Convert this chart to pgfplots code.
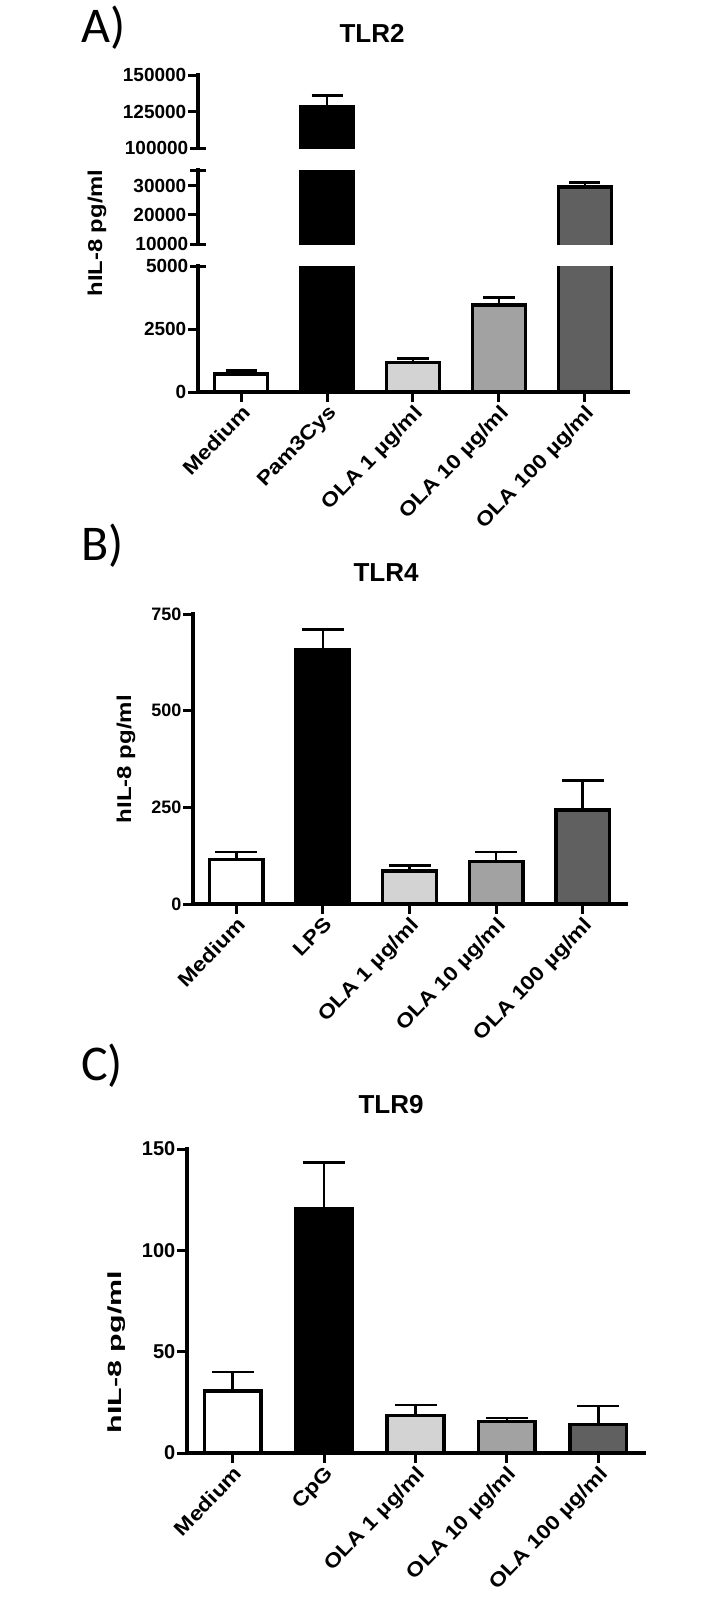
\documentclass[border=0pt]{standalone}
\usepackage{pgfplots}
\pgfplotsset{compat=1.18}
\usepackage{fontspec}
\usepackage{graphicx}
\setmainfont{Liberation Sans}
\newfontfamily\carlito{Carlito}

\definecolor{cL}{HTML}{D3D3D3}
\definecolor{cM}{HTML}{A2A2A2}
\definecolor{cD}{HTML}{606060}

\newcommand\xl[1]{\scalebox{1.15}[1]{#1}}

\pgfplotsset{
  base/.style={
    scale only axis, xmin=-0.5, xmax=4.5, clip=true,
    scaled y ticks=false,
    axis line style={line width=3.5pt, line cap=rect},
    tick style={black, line width=3pt},
    major tick length=10pt, tick align=outside,
    xtick={0,1,2,3,4},
    yticklabel style={font=\fontsize{19}{20}\selectfont\bfseries, inner sep=1.5pt},
    xticklabel style={font=\fontsize{20}{22}\selectfont\bfseries, rotate=46, anchor=north east, inner sep=1pt},
  },
  bs/.style={ybar, bar width=0.62, bar shift=0pt, draw=black, line width=3.5pt},
  eb/.style={error bars/.cd, y dir=plus, y explicit,
    error mark=-,
    error bar style={line width=2.5pt, black},
    error mark options={rotate=90, line width=2.5pt, black, mark size=#1}},
  brk/.style={extra y tick style={tick align=center, major tick length=16pt}},
}

\begin{document}
\begin{tikzpicture}
\useasboundingbox (0,0) rectangle (727pt,-1599pt);

% ---------------- Panel A (broken y axis) ----------------
% lower segment 0-5000
\begin{axis}[base, at={(198pt,-392pt)}, anchor=south west, width=430pt, height=126pt,
  ymin=0, ymax=5000, axis x line*=bottom, axis y line*=left,
  ytick={0,2500}, yticklabels={0,2500}, brk, extra y ticks={5000}, extra y tick labels={5000},
  xticklabels={\xl{Medium},\xl{Pam3Cys},\xl{OLA 1 µg/ml},\xl{OLA 10 µg/ml},\xl{OLA 100 µg/ml}}]
  \addplot[bs, fill=white, eb=15.5pt] coordinates {(0,720) +- (0,130)};
  \addplot[bs, fill=black] coordinates {(1,128000)};
  \addplot[bs, fill=cL, eb=15.5pt] coordinates {(2,1180) +- (0,150)};
  \addplot[bs, fill=cM, eb=15.5pt] coordinates {(3,3450) +- (0,300)};
  \addplot[bs, fill=cD] coordinates {(4,29650)};
\end{axis}
% middle segment 10000-35500
\begin{axis}[base, at={(198pt,-244pt)}, anchor=south west, width=430pt, height=74pt,
  ymin=10000, ymax=35500, axis x line=none, axis y line*=left,
  ytick={20000,30000}, yticklabels={20000,30000}, brk, extra y ticks={10000,35500}, extra y tick labels={10000,{}}]
  \addplot[bs, fill=black] coordinates {(1,128000)};
  \addplot[bs, fill=cD, draw=cD, eb=15.5pt] coordinates {(4,29650) +- (0,1600)};
  \addplot[black, line width=3.5pt, line join=miter, sharp plot] coordinates {(3.69,0) (3.69,29650) (4.31,29650) (4.31,0)};
\end{axis}
% upper segment 100000-150000
\begin{axis}[base, at={(198pt,-148pt)}, anchor=south west, width=430pt, height=73pt,
  ymin=100000, ymax=150000, axis x line=none, axis y line*=left,
  ytick={125000,150000}, yticklabels={125000,150000}, brk, extra y ticks={100000}, extra y tick labels={100000}]
  \addplot[bs, fill=black, eb=15.5pt] coordinates {(1,128000) +- (0,8000)};
\end{axis}

% ---------------- Panel B ----------------
\begin{axis}[base, at={(193pt,-904pt)}, anchor=south west, width=433pt, height=290pt,
  ymin=0, ymax=750, axis x line*=bottom, axis y line*=left,
  ytick={0,250,500,750}, yticklabels={0,250,500,750},
  yticklabel style={font=\fontsize{18}{20}\selectfont\bfseries},
  xticklabels={\xl{Medium},\xl{LPS},\xl{OLA 1 µg/ml},\xl{OLA 10 µg/ml},\xl{OLA 100 µg/ml}}]
  \addplot[bs, fill=white, eb=21pt] coordinates {(0,115) +- (0,20)};
  \addplot[bs, fill=black, eb=21pt] coordinates {(1,658) +- (0,52)};
  \addplot[bs, fill=cL, eb=21pt] coordinates {(2,86) +- (0,13)};
  \addplot[bs, fill=cM, eb=21pt] coordinates {(3,110) +- (0,25)};
  \addplot[bs, fill=cD, eb=21pt] coordinates {(4,243) +- (0,77)};
\end{axis}

% ---------------- Panel C ----------------
\begin{axis}[base, at={(187pt,-1453pt)}, anchor=south west, width=457pt, height=304pt,
  ymin=0, ymax=150, axis x line*=bottom, axis y line*=left,
  ytick={0,50,100,150}, yticklabels={0,50,100,150},
  yticklabel style={font=\fontsize{20}{22}\selectfont\bfseries},
  xticklabels={\xl{Medium},\xl{CpG},\xl{OLA 1 µg/ml},\xl{OLA 10 µg/ml},\xl{OLA 100 µg/ml}}]
  \addplot[bs, fill=white, eb=21pt] coordinates {(0,30.7) +- (0,9.4)};
  \addplot[bs, fill=black, eb=21pt] coordinates {(1,120.3) +- (0,23)};
  \addplot[bs, fill=cL, eb=21pt] coordinates {(2,18.5) +- (0,5.3)};
  \addplot[bs, fill=cM, eb=21pt] coordinates {(3,15.6) +- (0,1.6)};
  \addplot[bs, fill=cD, eb=21pt] coordinates {(4,14.1) +- (0,9.2)};
\end{axis}

% ---------------- Texts ----------------
\node[anchor=base west, inner sep=0pt, font=\carlito\fontsize{50}{55}\selectfont] at (81pt,-42pt) {A)};
\node[anchor=base west, inner sep=0pt, font=\carlito\fontsize{50}{55}\selectfont] at (81pt,-560pt) {B)};
\node[anchor=base west, inner sep=0pt, font=\carlito\fontsize{50}{55}\selectfont] at (81pt,-1080pt) {C)};

\node[anchor=base, inner sep=0pt, font=\fontsize{26}{28}\selectfont\bfseries] at (372pt,-42pt) {TLR2};
\node[anchor=base, inner sep=0pt, font=\fontsize{26}{28}\selectfont\bfseries] at (386pt,-581pt) {TLR4};
\node[anchor=base, inner sep=0pt, font=\fontsize{26}{28}\selectfont\bfseries] at (391pt,-1113pt) {TLR9};

\node[rotate=90, inner sep=0pt, font=\fontsize{20}{22}\selectfont\bfseries] at (97pt,-233pt) {\scalebox{1.19}[1]{hIL-8 pg/ml}};
\node[rotate=90, inner sep=0pt, font=\fontsize{20}{22}\selectfont\bfseries] at (126pt,-759pt) {\scalebox{1.2}[1]{hIL-8 pg/ml}};
\node[rotate=90, inner sep=0pt, font=\fontsize{19}{21}\selectfont\bfseries] at (117pt,-1352pt) {\scalebox{1.6}[1]{hIL-8 pg/ml}};
\end{tikzpicture}
\end{document}
